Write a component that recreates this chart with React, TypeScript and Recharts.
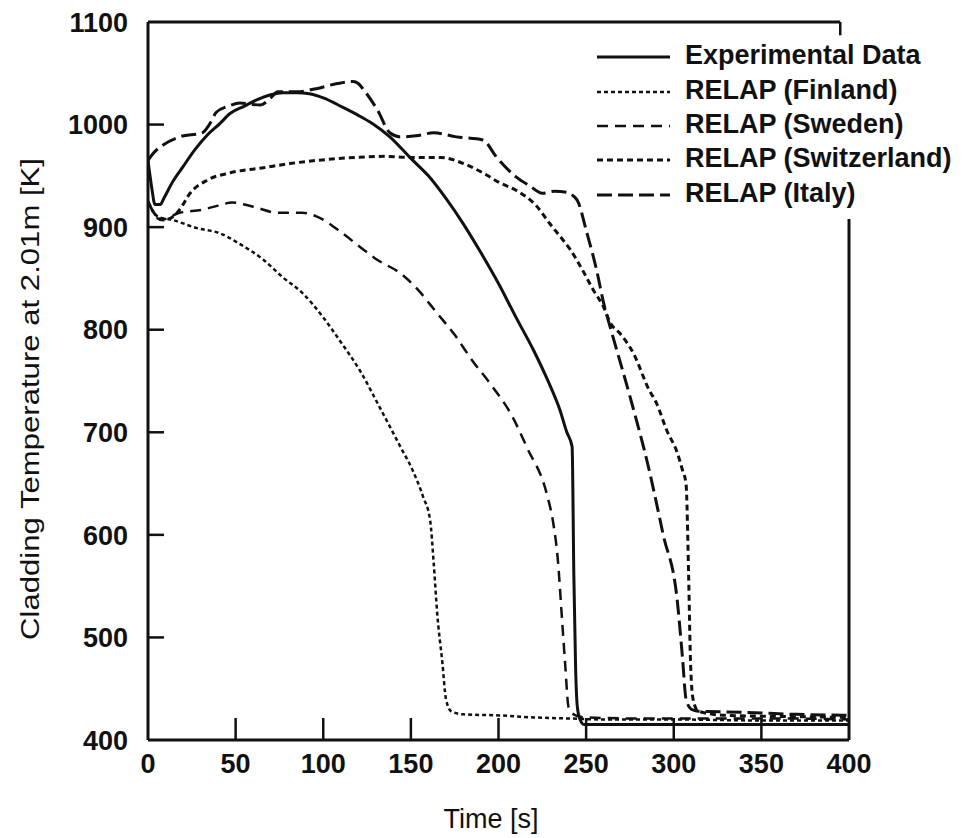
import React from "react";
import { LineChart, Line, XAxis, YAxis, ReferenceLine, Legend } from "recharts";

// time [s] / cladding temperature [K]
const expTime = [0, 2, 4, 7, 9, 14, 20, 27, 34, 41, 47, 55, 62, 70, 77, 85, 92, 100, 111, 120, 128, 138, 150, 160, 170, 180, 190, 200, 210, 220, 228, 235, 239, 242, 243, 244, 245, 246.5, 249, 260, 300, 350, 400];
const expTemp = [965, 940, 922, 922, 928, 944, 959, 976, 990, 1001, 1011, 1018, 1024, 1029, 1031, 1031, 1030, 1026, 1017, 1009, 1001, 988, 967, 950, 928, 903, 875, 845, 812, 780, 751, 722, 700, 686, 560, 470, 432, 420, 415, 415, 415, 415, 415];

const finlandTime = [0, 3, 6, 14, 28, 41, 52, 66, 77, 88, 100, 110, 121, 132, 144, 151, 157, 161, 163, 165, 168, 170, 173, 180, 200, 220, 240, 260, 300, 350, 400];
const finlandTemp = [925, 915, 910, 907, 899, 894, 884, 868, 851, 836, 812, 788, 760, 725, 686, 663, 637, 614, 573, 524, 475, 440, 428, 425, 424, 422, 421, 420, 420, 419, 419];

const swedenTime = [0, 3, 7, 18, 31, 40, 48, 55, 62, 74, 88, 98, 111, 123, 131, 144, 154, 165, 175, 185, 195, 208, 216, 228, 231, 234, 236, 238, 240, 244, 250, 280, 320, 360, 400];
const swedenTemp = [925, 915, 907, 914, 917, 921, 924, 922, 919, 914, 914, 909, 894, 878, 868, 855, 839, 816, 795, 770, 748, 715, 686, 637, 614, 573, 524, 475, 432, 424, 422, 421, 421, 421, 420];

const switzTime = [0, 3, 8.6, 14, 18, 24, 34, 47, 66, 81, 96, 119, 136, 150, 167, 180, 191, 201, 210, 222, 229, 237, 241, 248, 254, 260, 264, 269, 277, 286, 290, 296, 302, 305, 307, 308.5, 309.5, 311, 314, 330, 360, 400];
const switzTemp = [925, 915, 907, 910, 917, 933, 946, 953, 958, 962, 965, 968, 969, 968, 968, 962, 953, 943, 936, 920, 904, 887, 878, 858, 839, 822, 806, 797, 777, 741, 729, 702, 680, 663, 650, 560, 480, 440, 428, 424, 423, 422];

const italyTime = [0, 3, 8.6, 18, 31, 35, 39, 46, 52.5, 58, 64, 70, 74, 85, 96, 108, 117, 120, 123, 131, 138, 144, 153, 163, 176, 191, 199, 210, 218, 225, 232, 239, 243, 245, 250.5, 256, 260, 265, 275, 286, 294, 302, 305, 307, 310, 314, 340, 370, 400];
const italyTemp = [965, 972, 980, 988, 992, 1000, 1012, 1018, 1021, 1020, 1019, 1026, 1032, 1032, 1035, 1040, 1042, 1040, 1034, 1014, 992, 988, 989, 992, 988, 985, 968, 949, 940, 933, 935, 934, 930, 926, 894, 858, 826, 795, 735, 663, 600, 536, 480, 440, 430, 428, 427, 425, 424];

const timeTicks = [0, 50, 100, 150, 200, 250, 300, 350, 400];
const tempTicks = [400, 500, 600, 700, 800, 900, 1000, 1100];

const toPoints = (ts: number[], vs: number[]) => ts.map((t, i) => ({ t, v: vs[i] }));

const FONT = "Liberation Sans, Arial, sans-serif";
const INK = "#111";

const SERIES = [
  { key: "exp", name: "Experimental Data", data: toPoints(expTime, expTemp), width: 3, dash: undefined as string | undefined },
  { key: "fin", name: "RELAP (Finland)", data: toPoints(finlandTime, finlandTemp), width: 2.5, dash: "4 3" },
  { key: "swe", name: "RELAP (Sweden)", data: toPoints(swedenTime, swedenTemp), width: 2.5, dash: "11 7" },
  { key: "swi", name: "RELAP (Switzerland)", data: toPoints(switzTime, switzTemp), width: 3, dash: "6 4" },
  { key: "ita", name: "RELAP (Italy)", data: toPoints(italyTime, italyTemp), width: 3, dash: "15 6" },
];

const XTick = (props: any) => {
  const { x, y, payload } = props;
  const inner = payload.value !== 0 && payload.value !== 400;
  return (
    <g>
      {inner && <line x1={x} x2={x} y1={y} y2={y - 22} stroke={INK} strokeWidth={2.5} />}
      <text x={x} y={y + 33} textAnchor="middle" fontSize={27} fontWeight="bold" fontFamily={FONT} fill={INK}>
        {payload.value}
      </text>
    </g>
  );
};

const YTick = (props: any) => {
  const { x, y, payload } = props;
  const inner = payload.value !== 400 && payload.value !== 1100;
  return (
    <g>
      {inner && <line x1={x} x2={x + 16} y1={y} y2={y} stroke={INK} strokeWidth={2.5} />}
      <text x={x - 20} y={y} dy="0.36em" textAnchor="end" fontSize={27} fontWeight="bold" fontFamily={FONT} fill={INK}>
        {payload.value}
      </text>
    </g>
  );
};

const renderLegend = () => (
  <div style={{ fontFamily: FONT, fontSize: 27, fontWeight: "bold", color: INK }}>
    {SERIES.map((s) => (
      <div key={s.key} style={{ display: "flex", alignItems: "center", height: 34.4 }}>
        <svg width={93} height={34} style={{ flex: "none" }}>
          <line x1={5} x2={78} y1={19} y2={19} stroke={INK} strokeWidth={s.width} strokeDasharray={s.dash} />
        </svg>
        <span style={{ whiteSpace: "nowrap", lineHeight: "34px" }}>{s.name}</span>
      </div>
    ))}
  </div>
);

export default function App() {
  return (
    <div style={{ position: "absolute", left: 0, top: 0, width: 973, height: 838, background: "#fff" }}>
      <LineChart width={973} height={838} margin={{ top: 22, right: 124, bottom: 58, left: 88 }}>
        <XAxis
          dataKey="t"
          type="number"
          domain={[0, 400]}
          ticks={timeTicks}
          height={40}
          tickSize={0}
          tickMargin={0}
          tickLine={false}
          axisLine={{ stroke: INK, strokeWidth: 3 }}
          tick={<XTick />}
          allowDataOverflow
          label={() => (
            <text x={491} y={828} textAnchor="middle" fontSize={27} fontFamily={FONT} fill={INK}>
              Time [s]
            </text>
          )}
        />
        <YAxis
          type="number"
          domain={[400, 1100]}
          ticks={tempTicks}
          width={60}
          tickSize={0}
          tickMargin={0}
          tickLine={false}
          axisLine={{ stroke: INK, strokeWidth: 3 }}
          tick={<YTick />}
          allowDataOverflow
          label={() => (
            <text
              x={30}
              y={399}
              transform="rotate(-90 30 399)"
              textAnchor="middle"
              dominantBaseline="central"
              fontSize={26}
              fontFamily={FONT}
              fill={INK}
              textLength={482}
              lengthAdjust="spacingAndGlyphs"
            >
              Cladding Temperature at 2.01m [K]
            </text>
          )}
        />
        <ReferenceLine segment={[{ x: 0, y: 1100 }, { x: 395, y: 1100 }]} stroke={INK} strokeWidth={3} />
        <ReferenceLine segment={[{ x: 395, y: 1100 }, { x: 395, y: 1087 }]} stroke={INK} strokeWidth={2.5} />
        <ReferenceLine segment={[{ x: 400, y: 400 }, { x: 400, y: 908 }]} stroke={INK} strokeWidth={3} />
        {SERIES.map((s) => (
          <Line
            key={s.key}
            data={s.data}
            dataKey="v"
            name={s.name}
            type="monotone"
            stroke={INK}
            strokeWidth={s.width}
            strokeDasharray={s.dash}
            dot={false}
            activeDot={false}
            isAnimationActive={false}
          />
        ))}
        <Legend
          layout="vertical"
          align="center"
          verticalAlign="middle"
          content={renderLegend}
          wrapperStyle={{ left: 592, top: 38, width: 380 }}
        />
      </LineChart>
    </div>
  );
}
